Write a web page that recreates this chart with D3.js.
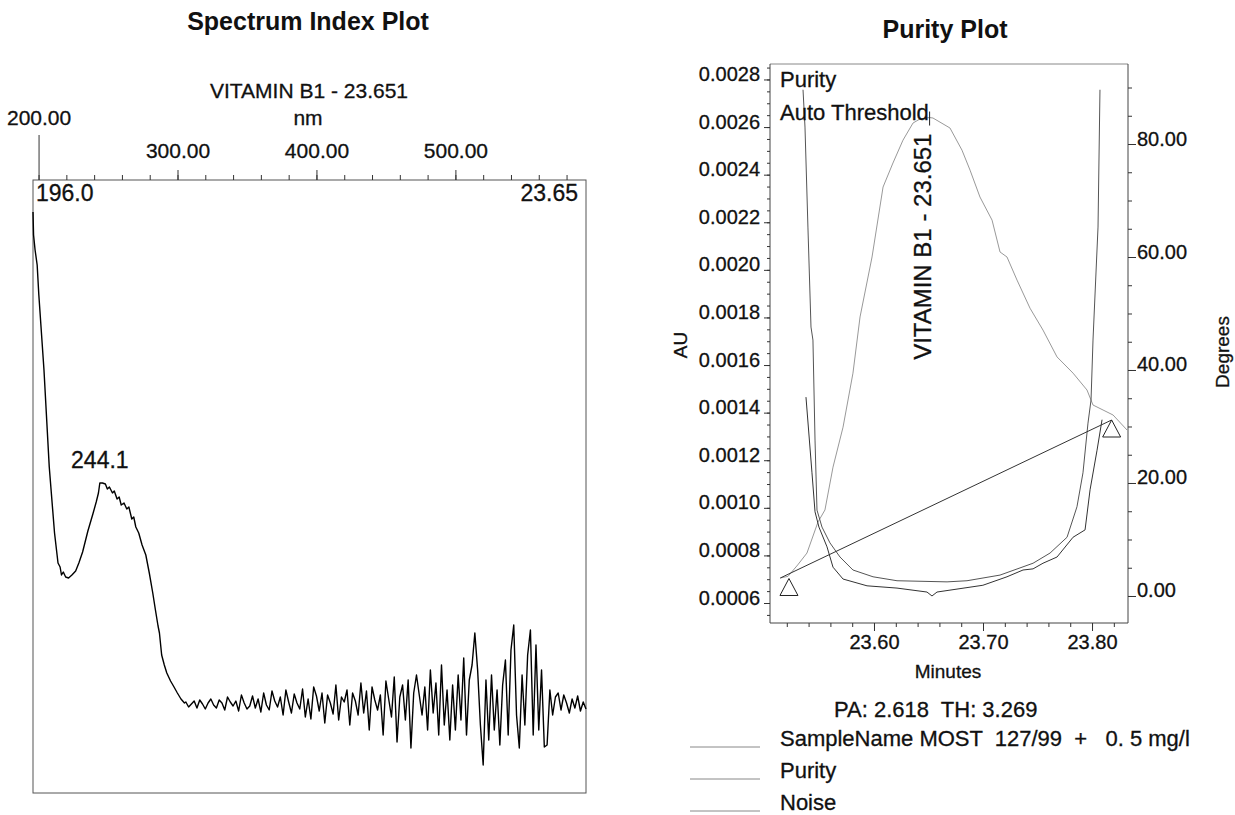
<!DOCTYPE html>
<html>
<head>
<meta charset="utf-8">
<script src="https://cdn.jsdelivr.net/npm/d3@7"></script>
<style>
  body { margin: 0; background: #fff; }
  svg { font-family: "Liberation Sans", Arial, sans-serif; }
  text { fill: #111; white-space: pre; stroke: #111; stroke-width: 0.3px; }
  text.title { stroke: none; }
</style>
</head>
<body>
<div id="chart"></div>
<script>
// ---- Spectrum Index Plot data (nm, absorbance in 1e-5 AU above baseline) ----
const specPeak = [
  [196.0, 493], [196.4, 470], [197.5, 455], [199.0, 440], [200.2, 410], [203.9, 335], [207.7, 238],
  [211.5, 172], [214.0, 142], [215.5, 138], [216.5, 130], [217.8, 133], [219.5, 128],
  [221.6, 127], [224.0, 130], [226.7, 134], [229.0, 142], [231.7, 153], [235.5, 174],
  [239.3, 192], [241.5, 203], [243.1, 212], [244.1, 222], [246.0, 222], [248.1, 221],
  [249.5, 216], [251.0, 218], [253.2, 212], [254.5, 214], [256.5, 206], [258.0, 208],
  [259.5, 200], [261.5, 202], [263.5, 196], [265.0, 198], [267.1, 186], [268.5, 188],
  [270.0, 178], [272.1, 172], [274.5, 160], [277.2, 150], [279.7, 132], [282.2, 112],
  [284.0, 96], [286.0, 79], [287.0, 72], [288.6, 50], [290.5, 40], [292.3, 32],
  [295.0, 24], [297.5, 18], [299.9, 12], [302.5, 6], [305.0, 2]
];
// baseline noise, sampled every 2 nm from 306 nm
const noiseStart = 306, noiseStep = 2;
const specNoise = [
  3, -2, 1, 4, -3, 5, 1, -4, 2, 6, 0, -3, 5,
  2, -5, 8, 3, -1, 4, -6, 10, 2, -4, -1, 9, -3, 6, -7, 12,
  0, -5, 14, 4, -2, 8, -10, 15, 3, -8, 11, 2, -4, 16, -12,
  6, -14, 18, 9, -6, 12, -18, 10, 2, -9, 20, -15, 8, 3, 15,
  -20, 12, 4, -10, 22, -8, 14, -25, 18, 5, -5, 10, -30, 24, 6,
  -12, 28, -37, 8, 20, -15, 25, -43, 12, 30, 10, -10, 18, -25, 35,
  -8, 22, -30, 40, -20, 15, -35, 20, -25, 30, -15, 47, -30, 25, 40,
  72, 35, -20, -60, 25, -35, 30, -25, 15, -40, 20, 45, -30, 55, 80,
  -10, -43, 30, -20, 50, 75, -30, 60, -25, 35, -42, -40, 15, -10, 8,
  12, -5, 10, 2, -8, 6, -3, 9, -6, 3, -4
];
const nmMinor = d3.range(200, 581, 20);
const nmMajor = [300, 400, 500];

// ---- Purity Plot data ----
const chromatogram = [ // minutes, AU
  [23.514, 0.000705], [23.5211, 0.000712], [23.5300, 0.000760], [23.5385, 0.000810],
  [23.5486, 0.000940], [23.5550, 0.000991], [23.5624, 0.001171], [23.5716, 0.001339],
  [23.5807, 0.001566], [23.5872, 0.001802], [23.5982, 0.002054], [23.6083, 0.002348],
  [23.6174, 0.002449], [23.6266, 0.002545], [23.6358, 0.002617], [23.6422, 0.002634],
  [23.6510, 0.002640], [23.6541, 0.002638], [23.6697, 0.002596], [23.6807, 0.002503],
  [23.6881, 0.002419], [23.6972, 0.002306], [23.7083, 0.002209], [23.7156, 0.002075],
  [23.7220, 0.002054], [23.7312, 0.001957], [23.7431, 0.001839], [23.7550, 0.001747],
  [23.7679, 0.001634], [23.7826, 0.001566], [23.7954, 0.001495], [23.8009, 0.001432],
  [23.8101, 0.001411], [23.8193, 0.001390], [23.8321, 0.001327]
];
const purity = [ // minutes, degrees
  [23.5376, 35.2], [23.5431, 21.8], [23.5459, 14.9], [23.5495, 12.2], [23.5569, 8.7],
  [23.5624, 5.1], [23.5716, 3.0], [23.5936, 1.8], [23.6211, 1.4], [23.6486, 0.7],
  [23.6532, 0.0], [23.6578, 0.7], [23.6999, 1.9], [23.7220, 3.4], [23.7367, 4.6],
  [23.7459, 4.8], [23.7550, 5.8], [23.7679, 6.9], [23.7826, 10.4], [23.7936, 11.7],
  [23.7982, 18.8], [23.8046, 25.8], [23.8092, 31.2]
];
const noiseThreshold = [ // minutes, degrees
  [23.5349, 89.6], [23.5367, 83.0], [23.5394, 65.3], [23.5422, 47.6], [23.5440, 45.3],
  [23.5459, 27.6], [23.5477, 15.2], [23.5523, 12.2], [23.5596, 9.4], [23.5688, 6.9],
  [23.5807, 4.6], [23.5991, 3.4], [23.6211, 2.7], [23.6670, 2.5], [23.6853, 2.7],
  [23.7156, 3.7], [23.7459, 5.8], [23.7615, 7.6], [23.7771, 10.4], [23.7862, 15.8],
  [23.7917, 21.8], [23.7963, 30.6], [23.7991, 34.7], [23.8009, 45.3], [23.8055, 65.3],
  [23.8073, 89.6]
];
const peakBaseline = [[23.514, 0.000705], [23.818, 0.001369]];
const peakMarkers = [[23.522, 0.000703], [23.818, 0.001369]];
const apexTime = 23.651, apexAU = 0.002640;
const auMajor = d3.range(0.0006, 0.00281, 0.0002);
const auMinor = d3.range(0.00055, 0.00286, 0.00005);
const degMajor = [0, 20, 40, 60, 80];
const degMinor = d3.range(0, 91, 5);
const minMajor = [23.60, 23.70, 23.80];
const minMinor = d3.range(23.52, 23.821, 0.02);
const legendItems = ['SampleName MOST  127/99  +   0. 5 mg/l', 'Purity', 'Noise'];

const width = 1235, height = 815;
const svg = d3.select('#chart').append('svg')
  .attr('width', width).attr('height', height);

// ================= Left: Spectrum Index Plot =================
const L = { left: 33, right: 586, top: 180, bottom: 793 };
const xL = d3.scaleLinear().domain([196, 594]).range([L.left, L.right]);
const yL = d3.scaleLinear().domain([-88, 525]).range([L.bottom, L.top]);

svg.append('text').attr('class', 'title').attr('x', 308).attr('y', 30).attr('text-anchor', 'middle')
  .style('font-size', '25px').style('font-weight', 'bold').text('Spectrum Index Plot');
svg.append('text').attr('x', 309).attr('y', 98).attr('text-anchor', 'middle')
  .style('font-size', '21px').text('VITAMIN B1 - 23.651');
svg.append('text').attr('x', 308).attr('y', 125).attr('text-anchor', 'middle')
  .style('font-size', '21px').text('nm');

// box
svg.append('rect').attr('x', L.left).attr('y', L.top)
  .attr('width', L.right - L.left).attr('height', L.bottom - L.top)
  .attr('fill', 'none').attr('stroke', '#555').attr('stroke-width', 1);

// top axis: minor, major, and the long 200 tick
function styleAxis(g, size) {
  g.select('.domain').remove();
  g.selectAll('line').attr('stroke', '#333');
  g.selectAll('text').style('font-size', size).attr('fill', '#111');
}
svg.append('g').attr('transform', `translate(0,${L.top})`)
  .call(d3.axisTop(xL).tickValues(nmMinor).tickSize(5).tickFormat(''))
  .call(g => styleAxis(g, '21px'));
svg.append('g').attr('transform', `translate(0,${L.top})`)
  .call(d3.axisTop(xL).tickValues(nmMajor).tickSize(10).tickPadding(12).tickFormat(d3.format('.2f')))
  .call(g => styleAxis(g, '21px'));
svg.append('g').attr('transform', `translate(0,${L.top})`)
  .call(d3.axisTop(xL).tickValues([200]).tickSize(45).tickPadding(10).tickFormat(d3.format('.2f')))
  .call(g => styleAxis(g, '21px'));

const spectrum = specPeak.concat(specNoise.map((v, i) => [noiseStart + i * noiseStep, v]));
svg.append('path').datum(spectrum)
  .attr('fill', 'none').attr('stroke', '#000').attr('stroke-width', 1.4)
  .attr('stroke-linejoin', 'round')
  .attr('d', d3.line().x(d => xL(d[0])).y(d => yL(d[1])));

svg.append('text').attr('x', L.left + 3).attr('y', 201)
  .style('font-size', '23px').text('196.0');
svg.append('text').attr('x', L.right - 8).attr('y', 201).attr('text-anchor', 'end')
  .style('font-size', '23px').text('23.65');
svg.append('text').attr('x', xL(244.1)).attr('y', 468).attr('text-anchor', 'middle')
  .style('font-size', '23px').text('244.1');

// ================= Right: Purity Plot =================
const R = { left: 770, right: 1128, top: 64, bottom: 623 };
const xR = d3.scaleLinear().domain([23.5046, 23.833]).range([R.left, R.right]);
const yAU = d3.scaleLinear().domain([0.000516, 0.002865]).range([R.bottom, R.top]);
const yDeg = d3.scaleLinear().domain([-4.78, 94.16]).range([R.bottom, R.top]);

svg.append('text').attr('class', 'title').attr('x', 945).attr('y', 38).attr('text-anchor', 'middle')
  .style('font-size', '25px').style('font-weight', 'bold').text('Purity Plot');

// frame
svg.append('line').attr('x1', R.left).attr('x2', R.right).attr('y1', R.top).attr('y2', R.top)
  .attr('stroke', '#888');
svg.append('line').attr('x1', R.left).attr('x2', R.left).attr('y1', R.top).attr('y2', R.bottom)
  .attr('stroke', '#444');
svg.append('line').attr('x1', R.right).attr('x2', R.right).attr('y1', R.top).attr('y2', R.bottom)
  .attr('stroke', '#444');
svg.append('line').attr('x1', R.left).attr('x2', R.right).attr('y1', R.bottom).attr('y2', R.bottom)
  .attr('stroke', '#444');

// AU axis
svg.append('g').attr('transform', `translate(${R.left},0)`)
  .call(d3.axisLeft(yAU).tickValues(auMinor).tickSize(3).tickFormat(''))
  .call(g => styleAxis(g, '20px'));
svg.append('g').attr('transform', `translate(${R.left},0)`)
  .call(d3.axisLeft(yAU).tickValues(auMajor).tickSize(6).tickPadding(4).tickFormat(d3.format('.4f')))
  .call(g => styleAxis(g, '20px'))
  .call(g => g.selectAll('text').attr('dy', '0.05em'));

// Degrees axis
svg.append('g').attr('transform', `translate(${R.right},0)`)
  .call(d3.axisRight(yDeg).tickValues(degMinor).tickSize(4).tickFormat(''))
  .call(g => styleAxis(g, '20px'));
svg.append('g').attr('transform', `translate(${R.right},0)`)
  .call(d3.axisRight(yDeg).tickValues(degMajor).tickSize(8).tickPadding(1).tickFormat(d3.format('.2f')))
  .call(g => styleAxis(g, '20px'))
  .call(g => g.selectAll('text').attr('dy', '0.05em'));

// Minutes axis
svg.append('g').attr('transform', `translate(0,${R.bottom})`)
  .call(d3.axisBottom(xR).tickValues(minMinor).tickSize(4).tickFormat(''))
  .call(g => styleAxis(g, '20px'));
svg.append('g').attr('transform', `translate(0,${R.bottom})`)
  .call(d3.axisBottom(xR).tickValues(minMajor).tickSize(8).tickPadding(4).tickFormat(d3.format('.2f')))
  .call(g => styleAxis(g, '20px'));

svg.append('text').attr('x', 948).attr('y', 678).attr('text-anchor', 'middle')
  .style('font-size', '19px').text('Minutes');
svg.append('text').attr('transform', 'translate(687,345) rotate(-90)').attr('text-anchor', 'middle')
  .style('font-size', '19px').text('AU');
svg.append('text').attr('transform', 'translate(1229,352) rotate(-90)').attr('text-anchor', 'middle')
  .style('font-size', '19px').text('Degrees');

const lineAU = d3.line().x(d => xR(d[0])).y(d => yAU(d[1]));
const lineDeg = d3.line().x(d => xR(d[0])).y(d => yDeg(d[1]));

svg.append('path').datum(chromatogram).attr('fill', 'none')
  .attr('stroke', '#999').attr('stroke-width', 1).attr('d', lineAU);
svg.append('path').datum(noiseThreshold).attr('fill', 'none')
  .attr('stroke', '#555').attr('stroke-width', 1).attr('d', lineDeg);
svg.append('path').datum(purity).attr('fill', 'none')
  .attr('stroke', '#333').attr('stroke-width', 1).attr('d', lineDeg);
svg.append('path').datum(peakBaseline).attr('fill', 'none')
  .attr('stroke', '#333').attr('stroke-width', 1).attr('d', lineAU);

// peak start / end markers
svg.selectAll('.marker').data(peakMarkers).join('path').attr('class', 'marker')
  .attr('transform', d => `translate(${xR(d[0])},${yAU(d[1])})`)
  .attr('d', 'M0,0 L9,17 L-9,17 Z')
  .attr('fill', 'none').attr('stroke', '#222').attr('stroke-width', 1);

// apex marker and label
svg.append('line').attr('x1', xR(apexTime)).attr('x2', xR(apexTime))
  .attr('y1', yAU(apexAU) - 6).attr('y2', yAU(apexAU) + 8).attr('stroke', '#222');
svg.append('text')
  .attr('transform', `translate(${xR(apexTime) + 1},${yAU(apexAU) + 16}) rotate(-90)`)
  .attr('text-anchor', 'end').style('font-size', '24px').text('VITAMIN B1 - 23.651');

svg.append('text').attr('x', 780).attr('y', 87).style('font-size', '22px').text('Purity');
svg.append('text').attr('x', 780).attr('y', 120).style('font-size', '22px').text('Auto Threshold');

svg.append('text').attr('x', 834).attr('y', 717)
  .style('font-size', '22px').text('PA: 2.618  TH: 3.269');

// legend
const leg = svg.append('g');
legendItems.forEach((t, i) => {
  const y = 746 + i * 32;
  leg.append('line').attr('x1', 690).attr('x2', 760).attr('y1', y + 1).attr('y2', y + 1)
    .attr('stroke', '#888').attr('stroke-width', 1);
  leg.append('text').attr('x', 780).attr('y', y).style('font-size', '22px').text(t);
});
</script>
</body>
</html>
